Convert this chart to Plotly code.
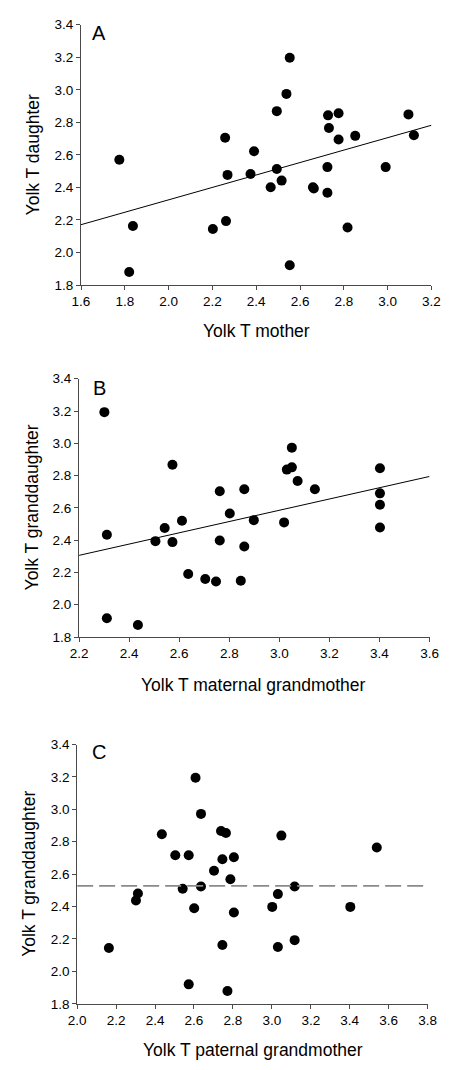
import plotly.graph_objects as go

# ---------------- data ----------------
# Panel A: mother vs daughter
a_mother = [1.775, 1.820, 1.837, 2.202, 2.258, 2.262, 2.269, 2.374, 2.390, 2.466,
            2.494, 2.494, 2.516, 2.538, 2.553, 2.553, 2.659, 2.663, 2.725, 2.725,
            2.728, 2.732, 2.776, 2.776, 2.817, 2.852, 2.991, 3.095, 3.120]
a_daughter = [2.570, 1.880, 2.163, 2.144, 2.705, 2.193, 2.477, 2.483, 2.622, 2.401,
              2.869, 2.513, 2.442, 2.975, 3.197, 1.922, 2.401, 2.393, 2.367, 2.525,
              2.843, 2.765, 2.856, 2.695, 2.154, 2.717, 2.525, 2.849, 2.721]
a_fit = [2.171, 0.382]          # intercept at x=1.6, slope

# Panel B: maternal grandmother vs granddaughter
b_mgm = [2.301, 2.311, 2.311, 2.435, 2.505, 2.542, 2.573, 2.573, 2.611, 2.636,
         2.704, 2.747, 2.762, 2.762, 2.802, 2.846, 2.860, 2.860, 2.898, 3.019,
         3.030, 3.050, 3.050, 3.073, 3.142, 3.402, 3.402, 3.402, 3.402]
b_gd = [3.193, 2.434, 1.916, 1.875, 2.394, 2.475, 2.867, 2.388, 2.520, 2.190,
        2.160, 2.144, 2.703, 2.398, 2.565, 2.149, 2.715, 2.361, 2.524, 2.510,
        2.837, 2.851, 2.973, 2.766, 2.715, 2.845, 2.690, 2.619, 2.479]
b_fit = [2.306, 0.349]          # intercept at x=2.2, slope

# Panel C: paternal grandmother vs granddaughter
c_pgm = [2.163, 2.302, 2.312, 2.435, 2.504, 2.542, 2.573, 2.573, 2.601, 2.608,
         2.636, 2.636, 2.703, 2.739, 2.746, 2.746, 2.764, 2.772, 2.787, 2.805,
         2.805, 3.002, 3.031, 3.031, 3.049, 3.117, 3.117, 3.403, 3.539]
c_gd = [2.145, 2.437, 2.481, 2.846, 2.717, 2.510, 2.717, 1.920, 2.390, 3.195,
        2.972, 2.524, 2.621, 2.866, 2.692, 2.163, 2.854, 1.879, 2.569, 2.704,
        2.364, 2.398, 2.477, 2.151, 2.838, 2.524, 2.193, 2.398, 2.765]
c_mean = 2.528

y_ticks = [1.8, 2.0, 2.2, 2.4, 2.6, 2.8, 3.0, 3.2, 3.4]
a_xticks = [1.6, 1.8, 2.0, 2.2, 2.4, 2.6, 2.8, 3.0, 3.2]
b_xticks = [2.2, 2.4, 2.6, 2.8, 3.0, 3.2, 3.4, 3.6]
c_xticks = [2.0, 2.2, 2.4, 2.6, 2.8, 3.0, 3.2, 3.4, 3.6, 3.8]

titles = [("Yolk T mother", "Yolk T daughter", "A"),
          ("Yolk T maternal grandmother", "Yolk T granddaughter", "B"),
          ("Yolk T paternal grandmother", "Yolk T granddaughter", "C")]

# ---------------- figure ----------------
W, H = 451, 1070
FONT = "Liberation Sans, Arial, sans-serif"

def px(x):
    return x / W

def py(y):
    return 1 - y / H

# plot areas in pixels: (left, right, top, bottom)
boxes = [(75, 440, 18, 282), (73, 438, 377, 639), (71, 436, 748, 1011)]
xtitle_pos = [(258, 329), (255, 688), (254, 1058)]
ytitle_x = [24.5, 23.5, 20.5]
letter_pos = [(94, 26), (94.5, 386), (94, 756)]

fig = go.Figure()

marker = dict(color="black", size=10, line=dict(width=0))

fig.add_trace(go.Scatter(x=a_mother, y=a_daughter, mode="markers", marker=marker,
                         xaxis="x", yaxis="y", showlegend=False))
ax0, ax1 = a_xticks[0], a_xticks[-1]
fig.add_trace(go.Scatter(x=[ax0, ax1],
                         y=[a_fit[0], a_fit[0] + a_fit[1] * (ax1 - ax0)],
                         mode="lines", line=dict(color="black", width=1),
                         xaxis="x", yaxis="y", showlegend=False))

fig.add_trace(go.Scatter(x=b_mgm, y=b_gd, mode="markers", marker=marker,
                         xaxis="x2", yaxis="y2", showlegend=False))
bx0, bx1 = b_xticks[0], b_xticks[-1]
fig.add_trace(go.Scatter(x=[bx0, bx1],
                         y=[b_fit[0], b_fit[0] + b_fit[1] * (bx1 - bx0)],
                         mode="lines", line=dict(color="black", width=1),
                         xaxis="x2", yaxis="y2", showlegend=False))

fig.add_trace(go.Scatter(x=c_pgm, y=c_gd, mode="markers", marker=marker,
                         xaxis="x3", yaxis="y3", showlegend=False))
cx0, cx1 = c_xticks[0], c_xticks[-1]
fig.add_trace(go.Scatter(x=[cx0, cx1], y=[c_mean, c_mean], mode="lines",
                         line=dict(color="#8a8a8a", width=1.6, dash="16px,6px"),
                         xaxis="x3", yaxis="y3", showlegend=False))

axis_common = dict(showgrid=False, zeroline=False, showline=True,
                   linecolor="#4a4a4a", linewidth=1, ticks="outside",
                   ticklen=4, tickcolor="#4a4a4a", tickwidth=1,
                   tickfont=dict(family=FONT, size=13.5, color="black"),
                   tickformat=".1f", fixedrange=True)

layout = dict(width=W, height=H, margin=dict(l=0, r=0, t=0, b=0),
              paper_bgcolor="white", plot_bgcolor="white",
              font=dict(family=FONT, color="black"), annotations=[])

xt_all = [a_xticks, b_xticks, c_xticks]
for i, (l, r, t, b) in enumerate(boxes):
    sfx = "" if i == 0 else str(i + 1)
    xt = xt_all[i]
    layout["xaxis" + sfx] = dict(axis_common, domain=[px(l), px(r)],
                                 range=[xt[0], xt[-1]], tickvals=xt,
                                 anchor="y" + sfx)
    layout["yaxis" + sfx] = dict(axis_common, domain=[py(b), py(t)],
                                 range=[y_ticks[0], y_ticks[-1]], tickvals=y_ticks,
                                 anchor="x" + sfx)
    xtitle, ytitle, letter = titles[i]
    layout["annotations"].append(dict(
        text=xtitle, xref="paper", yref="paper",
        x=px(xtitle_pos[i][0]), y=py(xtitle_pos[i][1]),
        xanchor="center", yanchor="middle", showarrow=False,
        font=dict(family=FONT, size=17.5, color="black")))
    layout["annotations"].append(dict(
        text=ytitle, xref="paper", yref="paper",
        x=px(ytitle_x[i]), y=py((t + b) / 2), textangle=-90,
        xanchor="center", yanchor="middle", showarrow=False,
        font=dict(family=FONT, size=17.5, color="black")))
    layout["annotations"].append(dict(
        text=letter, xref="paper", yref="paper",
        x=px(letter_pos[i][0]), y=py(letter_pos[i][1]),
        xanchor="center", yanchor="middle", showarrow=False,
        font=dict(family=FONT, size=20, color="black")))

fig.update_layout(**layout)

fig.write_html("out.html", config={"displayModeBar": False, "staticPlot": True},
               post_script="document.body.style.margin='0';document.body.style.overflow='hidden';")
